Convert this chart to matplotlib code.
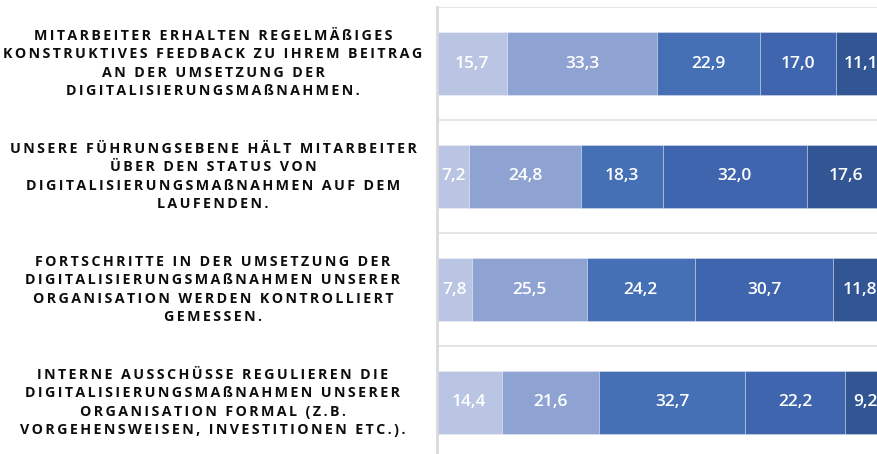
import matplotlib
matplotlib.use("Agg")
import matplotlib.pyplot as plt
import numpy as np

# Survey statements (top to bottom) and answer shares in percent
statements = [
    "MITARBEITER ERHALTEN REGELMÄßIGES\nKONSTRUKTIVES FEEDBACK ZU IHREM BEITRAG\nAN DER UMSETZUNG DER\nDIGITALISIERUNGSMAßNAHMEN.",
    "UNSERE FÜHRUNGSEBENE HÄLT MITARBEITER\nÜBER DEN STATUS VON\nDIGITALISIERUNGSMAßNAHMEN AUF DEM\nLAUFENDEN.",
    "FORTSCHRITTE IN DER UMSETZUNG DER\nDIGITALISIERUNGSMAßNAHMEN UNSERER\nORGANISATION WERDEN KONTROLLIERT\nGEMESSEN.",
    "INTERNE AUSSCHÜSSE REGULIEREN DIE\nDIGITALISIERUNGSMAßNAHMEN UNSERER\nORGANISATION FORMAL (Z.B.\nVORGEHENSWEISEN, INVESTITIONEN ETC.).",
]
answer_1 = [15.7, 7.2, 7.8, 14.4]
answer_2 = [33.3, 24.8, 25.5, 21.6]
answer_3 = [22.9, 18.3, 24.2, 32.7]
answer_4 = [17.0, 32.0, 30.7, 22.2]
answer_5 = [11.1, 17.6, 11.8, 9.2]

series = [answer_1, answer_2, answer_3, answer_4, answer_5]
colors = ["#bac5e3", "#8fa3d3", "#4670b5", "#3e65ad", "#325594"]

W, H = 878, 454
fig = plt.figure(figsize=(W / 100, H / 100), dpi=100)
# the 0-100 % scale runs slightly past the right border of the figure
ax = fig.add_axes([437 / W, 0, 449 / W, 447 / H])

y = np.arange(len(statements))
bar_h = 0.566
left = np.zeros(len(statements))
for vals, col in zip(series, colors):
    vals = np.array(vals)
    ax.barh(y, vals, left=left, height=bar_h, color=col,
            edgecolor=(1, 1, 1, 0.35), linewidth=0.6)
    for yi, (l, v) in enumerate(zip(left, vals)):
        ax.text(l + v / 2, yi, f"{v:.1f}".replace(".", ","),
                ha="center", va="center", color="white",
                fontsize=12.5, fontweight="semibold",
                family=["Open Sans", "DejaVu Sans"])
    left += vals

ax.set_xlim(0, 100)
ax.set_ylim(3.5 - 5 / 113, -0.5)

# category separators
for b in np.arange(-0.5, len(statements), 1.0):
    ax.axhline(b, color="#e0e0e0", linewidth=1.2, zorder=0)

for s in ["top", "right", "bottom"]:
    ax.spines[s].set_visible(False)
ax.spines["left"].set_color("#d9d9d9")
ax.spines["left"].set_linewidth(2)
ax.set_xticks([])
ax.set_yticks([])


def tracked(text, gap="\u2006"):
    """Widen letter spacing by putting narrow spaces between characters."""
    return "\n".join(gap.join(line) for line in text.split("\n"))


label_x = -(437 - 213) / 449 * 100
for yi, s in enumerate(statements):
    ax.text(label_x, yi, tracked(s), ha="center", va="center",
            multialignment="center", fontsize=10.3, fontweight="bold",
            family=["Open Sans", "DejaVu Sans"], color="#0d0d0d",
            linespacing=1.42, clip_on=False)

fig.savefig("out.png", dpi=100)
